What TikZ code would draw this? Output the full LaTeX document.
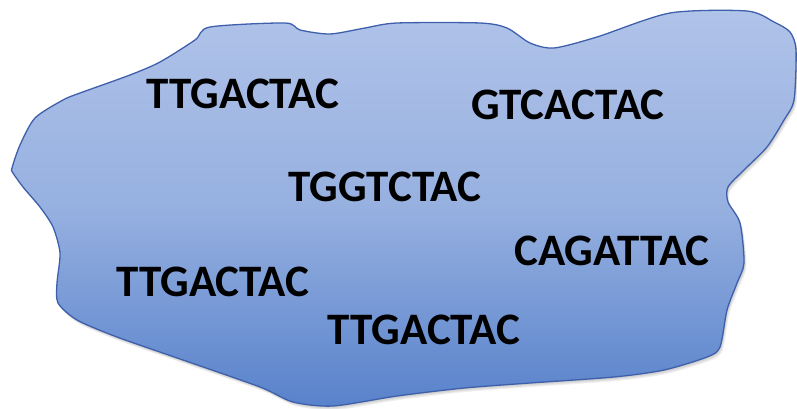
\documentclass[tikz,border=0pt]{standalone}
\usepackage{fontspec}
\setmainfont{Carlito}
\definecolor{blobtop}{RGB}{176,195,233}
\definecolor{blobmid}{RGB}{150,176,224}
\definecolor{blobbot}{RGB}{88,130,203}
\definecolor{blobline}{RGB}{62,96,172}
\begin{document}
\begin{tikzpicture}[x=1pt,y=-1pt,
  seq/.style={font=\fontsize{45}{45}\selectfont\bfseries, inner sep=0pt, text=black},
  blobshadow/.style={fill=black, fill opacity=0.06, draw=none}]
\useasboundingbox (0,0) rectangle (797,409);
\def\blobpath{plot[smooth cycle, tension=0.45] coordinates {
  (12,168) (20,145) (35,118) (63,100) (80,93) (130,75) (160,62) (195,40) (210,27)
  (285,23) (300,30) (330,34) (365,28) (397,23) (480,23) (507,28) (530,43) (554,48)
  (597,37) (670,13) (747,11) (774,22) (790,32) (796,50) (794,100) (784,120) (767,147)
  (744,170) (728,187) (728,202) (740,223) (744,263) (737,283) (727,310) (720,347)
  (707,357) (664,370) (614,377) (530,383) (464,388) (397,396) (333,406) (293,402)
  (260,387) (183,360) (117,337) (77,320) (58,303) (57,283) (60,253) (53,227)
  (40,207) (23,187) (13,173)}}
\foreach \d in {1,2,3,4} {
  \path[blobshadow, shift={(\d*0.6pt,-\d*1pt)}] \blobpath;
}
\path[draw=blobline, line width=1.3pt, top color=blobtop, bottom color=blobbot, middle color=blobmid]
  \blobpath;
\node[seq] (s1) at (243,94) {TTGACTAC};
\node[seq] (s2) at (568,105) {GTCACTAC};
\node[seq] (s3) at (385,187) {TGGTCTAC};
\node[seq] (s4) at (612,251) {CAGATTAC};
\node[seq] (s5) at (213,282) {TTGACTAC};
\node[seq] (s6) at (424,330) {TTGACTAC};
\end{tikzpicture}
\end{document}
